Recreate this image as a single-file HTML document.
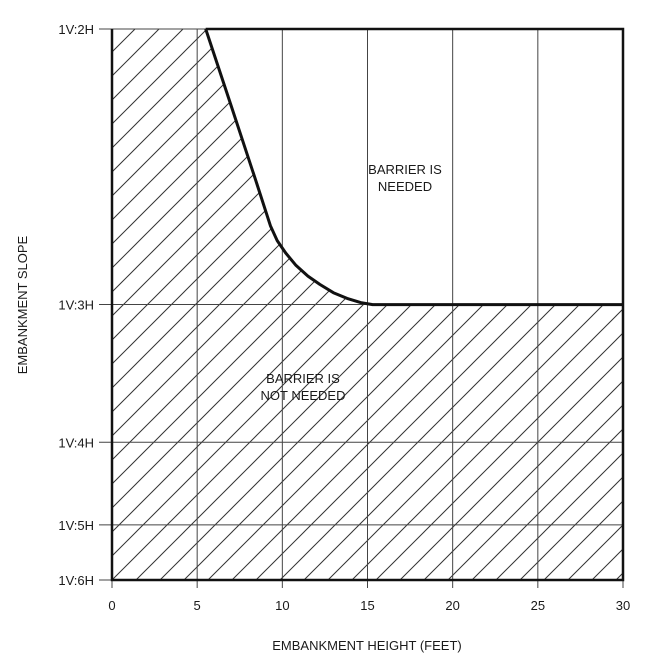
<!DOCTYPE html>
<html><head><meta charset="utf-8"><style>
body{margin:0;background:#fff}
svg text{font-family:"Liberation Sans",sans-serif;fill:#1a1a1a}
</style></head><body>
<svg id="chart" width="661" height="666" xmlns="http://www.w3.org/2000/svg">
<defs>
<pattern id="hatch" patternUnits="userSpaceOnUse" width="24" height="24" x="112" y="580">
<line x1="0" y1="24" x2="24" y2="0" stroke="#333" stroke-width="1"/>
<line x1="-6" y1="6" x2="6" y2="-6" stroke="#333" stroke-width="1"/>
<line x1="18" y1="30" x2="30" y2="18" stroke="#333" stroke-width="1"/>
</pattern>
</defs>
<g id="g"></g>
</svg>
<script>
const xTicks=[0,5,10,15,20,25,30];
const yTickH=[2,3,4,5,6];
const yTickLabels=["1V:2H","1V:3H","1V:4H","1V:5H","1V:6H"];
const curveX=[5.5,7,8.5,9.3,9.7,10.2,10.8,11.5,12.2,13,13.8,14.6,15.3,30];
const curveV=[0.5,0.4535,0.4065,0.381,0.372,0.3645,0.357,0.3505,0.3455,0.3405,0.337,0.3345,0.3333,0.3333];
const L=112,R=623,T=29,B=580;
const vMax=0.5,vMin=1/6;
const xs=x=>L+x/30*(R-L);
const ys=v=>T+(vMax-v)/(vMax-vMin)*(B-T);
const NS="http://www.w3.org/2000/svg";
const g=document.getElementById('g');
function mk(t,a,p){const e=document.createElementNS(NS,t);for(const k in a)e.setAttribute(k,a[k]);(p||g).appendChild(e);return e;}
let d=`M${L},${B} L${L},${T} `;
curveX.forEach((x,i)=>{d+=`L${xs(x).toFixed(1)},${ys(curveV[i]).toFixed(1)} `;});
d+=`L${R},${B} Z`;
const hz=mk('path',{d:d,fill:'url(#hatch)',stroke:'none'});


xTicks.forEach(x=>{const l=mk('line',{x1:xs(x),x2:xs(x),y1:T,y2:B+8,stroke:'#444','stroke-width':1});


const t=mk('text',{x:xs(x),y:B+30,'text-anchor':'middle','font-size':13});t.textContent=x;

});
yTickH.forEach((h,i)=>{const y=ys(1/h);const l=mk('line',{x1:L-13,x2:R,y1:y,y2:y,stroke:'#444','stroke-width':1});


const t=mk('text',{x:L-18,y:y+5,'text-anchor':'end','font-size':13});t.textContent=yTickLabels[i];

});
const fr=mk('path',{d:`M${L},${T} L${L},${B} L${R},${B} L${R},${T} L${xs(curveX[0])},${T}`,fill:'none',stroke:'#111','stroke-width':2.5});


let cd='';curveX.forEach((x,i)=>{cd+=(i?'L':'M')+xs(x).toFixed(1)+','+ys(curveV[i]).toFixed(1)+' ';});
const c=mk('path',{d:cd,fill:'none',stroke:'#111','stroke-width':3,'stroke-linejoin':'round'});


function txt(s,x,y,name,extra){const t=mk('text',Object.assign({x:x,y:y,'text-anchor':'middle','font-size':13},extra||{}));t.textContent=s;

return t;}
txt('BARRIER IS',405,174,'needed-label');
txt('NEEDED',405,191,'needed-label');
txt('BARRIER IS',303,383,'not-needed-label');
txt('NOT NEEDED',303,400,'not-needed-label');
txt('EMBANKMENT HEIGHT (FEET)',367,650,'x-axis-title');
txt('EMBANKMENT SLOPE',27,305,'y-axis-title',{transform:'rotate(-90 27 305)'});
</script>
</body></html>
